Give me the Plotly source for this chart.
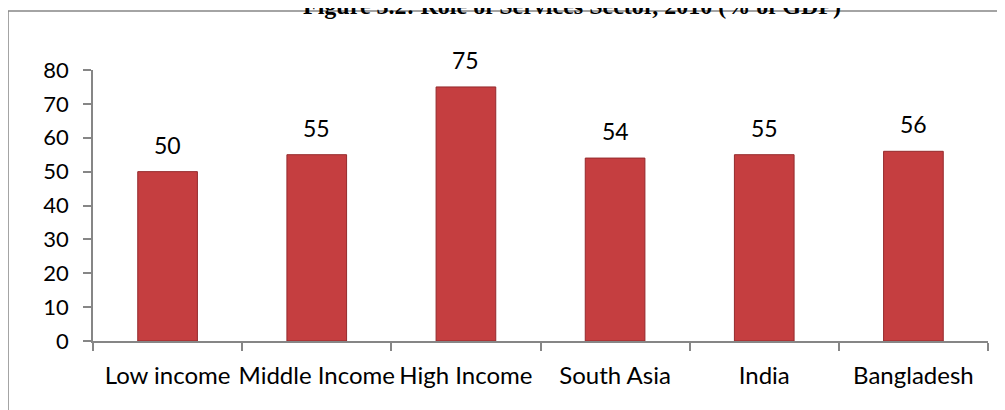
import plotly.graph_objects as go

categories = ["Low income", "Middle Income", "High Income", "South Asia", "India", "Bangladesh"]
values = [50, 55, 75, 54, 55, 56]
y_ticks = [0, 10, 20, 30, 40, 50, 60, 70, 80]
title_text = "Figure 3.2: Role of Services Sector, 2010 (% of GDP)"

# page body adds an 8px margin, so the figure is sized to fit the window
OFF = 8
W, H = 1005 - OFF, 410 - OFF
L, R, T, B = 93 - OFF, 1005 - 988, 70 - OFF, 410 - 341
pw, ph = W - L - R, H - T - B


def px(sx):
    return (sx - OFF - L) / pw


def py(sy):
    return (H - B - (sy - OFF)) / ph


fig = go.Figure()
fig.add_trace(go.Bar(
    x=categories, y=values,
    marker=dict(color="#C53E40", line=dict(color="#952A2C", width=1)),
    hoverinfo="skip",
))

for c, v in zip(categories, values):
    fig.add_annotation(x=c, y=v, text=str(v), showarrow=False,
                       yanchor="bottom", yshift=11,
                       font=dict(family="Lato", size=23, color="#000000"))

axis_gray = "#868686"
fig.update_layout(
    width=W, height=H,
    margin=dict(l=L, r=R, t=T, b=B, autoexpand=False),
    paper_bgcolor="white", plot_bgcolor="white",
    showlegend=False,
    bargap=0.6,
    xaxis=dict(showline=True, linecolor=axis_gray, linewidth=1.5,
               ticks="outside", tickson="boundaries", ticklen=8, tickcolor=axis_gray, tickwidth=1.5,
               showgrid=False, tickangle=0, automargin=False,
               tickfont=dict(family="Lato", size=24, color="#000000"),
               ticklabelstandoff=12, fixedrange=True),
    yaxis=dict(range=[0, 80], tickvals=y_ticks, showline=True, linecolor=axis_gray, linewidth=1.5,
               ticks="outside", ticklen=8, tickcolor=axis_gray, tickwidth=1.5,
               showgrid=False, zeroline=False, automargin=False,
               tickfont=dict(family="Lato", size=22, color="#000000"),
               ticklabelstandoff=10, fixedrange=True),
)

# outer chart border (left and top visible)
fig.add_shape(type="rect", xref="paper", yref="paper",
              x0=px(8), x1=px(1015),
              y0=py(420), y1=py(11),
              line=dict(color="#878787", width=1.5), fillcolor="rgba(0,0,0,0)", layer="below")

# title (partially cut at the top, as in the source)
fig.add_annotation(xref="paper", yref="paper",
                   x=px(572), y=py(8),
                   text="<b>" + title_text + "</b>", showarrow=False,
                   xanchor="center", yanchor="bottom", yshift=-13,
                   font=dict(family="Liberation Serif", size=24, color="#000000"))

fig.write_html("out.html")
